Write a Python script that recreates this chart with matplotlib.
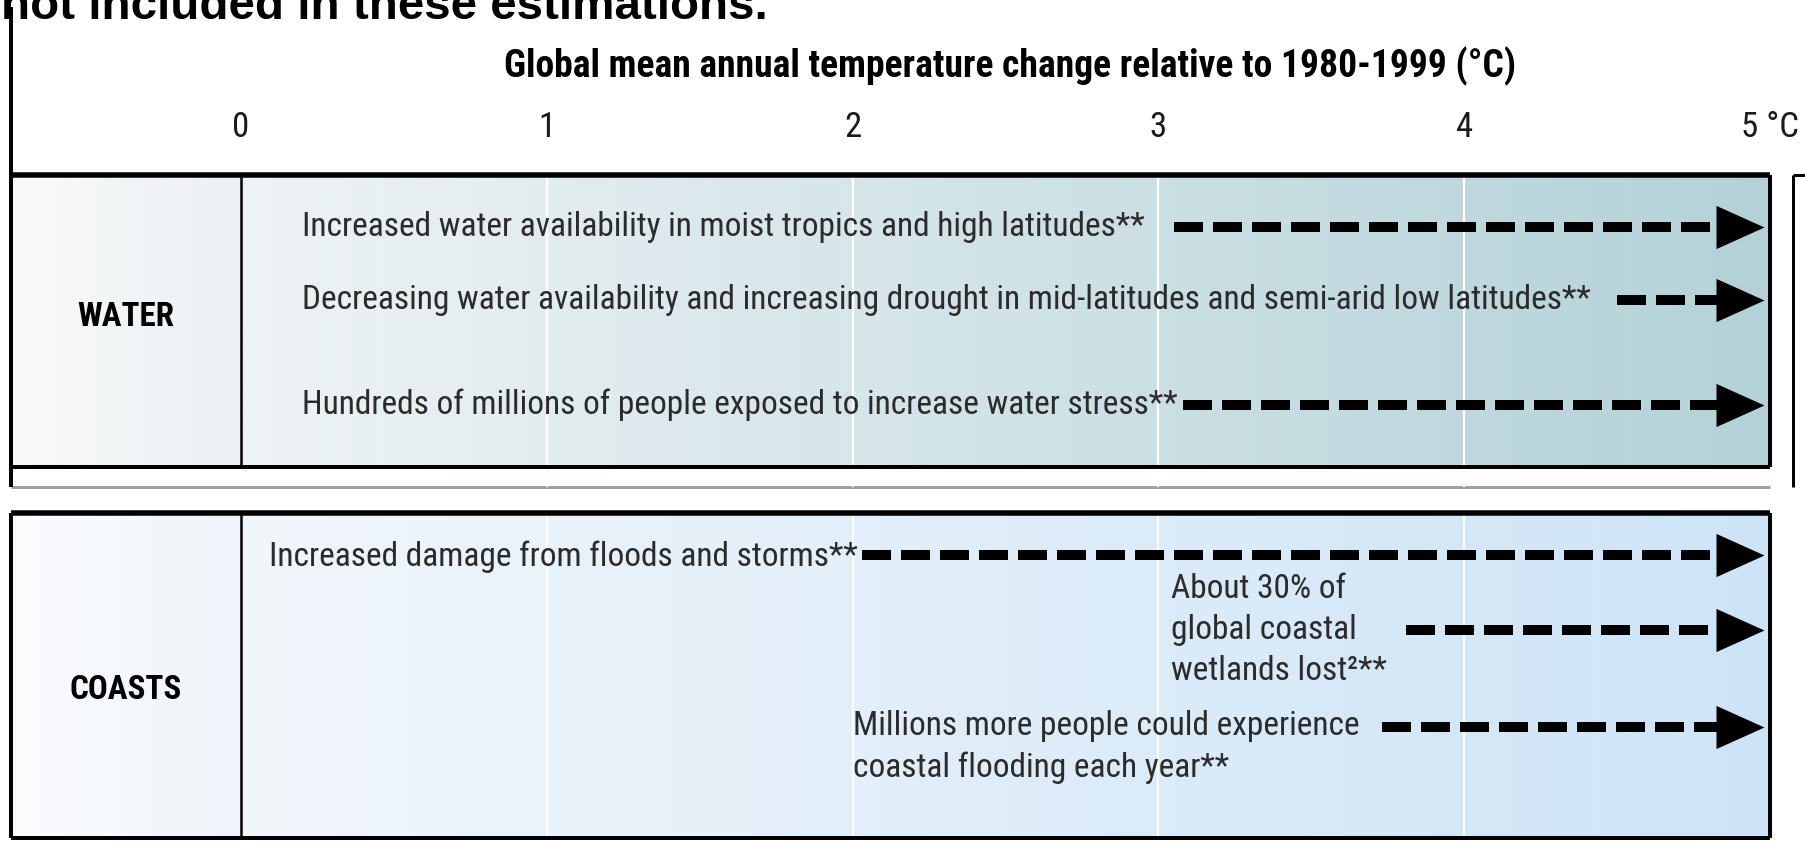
import os
import numpy as np
import matplotlib
matplotlib.use("Agg")
import matplotlib.pyplot as plt
import matplotlib.font_manager as fm
from matplotlib.colors import to_rgb
from matplotlib.transforms import ScaledTranslation

# ---------------- data ----------------
ticks = [0, 1, 2, 3, 4, 5]
tick_labels = ["0", "1", "2", "3", "4", "5 °C"]
axis_title = "Global mean annual temperature change relative to 1980-1999 (°C)"
cut_title = "not included in these estimations."

sectors = ["WATER", "COASTS"]

water_text = ["Increased water availability in moist tropics and high latitudes**",
              "Decreasing water availability and increasing drought in mid-latitudes and semi-arid low latitudes**",
              "Hundreds of millions of people exposed to increase water stress**"]
water_text_x = [0.20, 0.20, 0.20]
water_arrow_from = [3.05, 4.50, 3.08]
water_arrow_to = [4.98, 4.98, 4.98]

coast_text = ["Increased damage from floods and storms**",
              "About 30% of\nglobal coastal\nwetlands lost\u00b2**",
              "Millions more people could experience\ncoastal flooding each year**"]
coast_text_x = [0.09, 3.04, 2.00]
coast_arrow_from = [2.03, 3.81, 3.73]
coast_arrow_to = [4.98, 4.98, 4.98]

# ---------------- layout (pixels) ----------------
W, H, DPI = 1805, 849, 100
X0 = 241.0      # pixel of 0 degC
PPD = 305.8     # pixels per degC
XL = (11 - X0) / PPD   # left frame edge in degC units

water_rows = [227, 300, 405]
coast_rows = [557, 630, 747]
coast_arrow_rows = [555, 630, 727]
line_gap = 41
text_gap = 5    # pixels kept between a text end and its arrow

panels = [(175, 467), (513, 838)]
grad_label = [("#f9fafb", "#ebf0f2"), ("#fbfcfe", "#eef4fa")]
grad_main = [("#eef3f5", "#b3d2d8"), ("#f1f6fb", "#cde4f7")]

plt.rcParams["lines.scale_dashes"] = False


def px(v):
    return v * 72.0 / DPI


FILES = {os.path.basename(f.fname): f.fname for f in fm.fontManager.ttflist}


def pick(files, **fallback):
    for name in files:
        if name in FILES:
            return fm.FontProperties(fname=FILES[name])
    return fm.FontProperties(**fallback)


body_font = pick(["NotoSans-Condensed.ttf", "RobotoCondensed-Regular.ttf",
                  "LiberationSansNarrow-Regular.ttf", "DejaVuSansCondensed.ttf"],
                 family="DejaVu Sans")
label_font = pick(["RobotoCondensed-Regular.ttf", "LiberationSansNarrow-Regular.ttf",
                   "NotoSans-Condensed.ttf", "DejaVuSansCondensed.ttf"], family="DejaVu Sans")
label_bold = pick(["RobotoCondensed-Bold.ttf", "LiberationSansNarrow-Bold.ttf",
                   "NotoSans-CondensedBold.ttf", "DejaVuSansCondensed-Bold.ttf"],
                  family="DejaVu Sans", weight="bold")
arial_b = pick(["LiberationSans-Bold.ttf"], family="DejaVu Sans", weight="bold")

fig = plt.figure(figsize=(W / DPI, H / DPI), dpi=DPI)
ax = fig.add_axes([0, 0, 1, 1])
xlim = (-X0 / PPD, (W - X0) / PPD)
renderer = fig.canvas.get_renderer()


def width_of(s, fp, size):
    t = ax.text(0, 0, s, fontproperties=fp, fontsize=size)
    w = t.get_window_extent(renderer).width
    t.remove()
    return w


def fit(t, width_px):
    w = t.get_window_extent(renderer).width
    t.set_fontsize(t.get_fontsize() * width_px / w)
    return t.get_fontsize()


def grad(x0, x1, y0, y1, c0, c1):
    t = np.linspace(0, 1, 256)[None, :, None]
    img = (1 - t) * np.array(to_rgb(c0)) + t * np.array(to_rgb(c1))
    ax.imshow(img, extent=(x0, x1, y1, y0), aspect="auto", zorder=0,
              interpolation="bilinear")


# backgrounds
for (y0, y1), gl, gm in zip(panels, grad_label, grad_main):
    grad(XL, 0, y0, y1, *gl)
    grad(0, ticks[-1], y0, y1, *gm)

# white grid lines
ax.vlines(ticks[1:-1], panels[0][0], 487, color="white", lw=px(2.2), zorder=1)
ax.vlines(ticks[1:-1], panels[1][0], panels[1][1], color="white", lw=px(2.2), alpha=0.9, zorder=1)

# frames
k = "black"
ax.hlines(487, XL, ticks[-1], color="#a0a0a0", lw=px(3), zorder=0.5)
ax.vlines(XL, 7, 487, color=k, lw=px(4), zorder=3)
for y0, y1 in panels:
    ax.hlines(y0, XL, ticks[-1], color=k, lw=px(5.5), zorder=3)
    ax.hlines(y1, XL, ticks[-1], color=k, lw=px(4), zorder=3)
    ax.vlines(XL, y0, y1, color=k, lw=px(4), zorder=3)
    ax.vlines(ticks[-1], y0, y1, color=k, lw=px(4), zorder=3)
    ax.vlines(ticks[0], y0, y1, color=k, lw=px(2.5), zorder=3)
xr = (1793 - X0) / PPD
ax.vlines(xr, panels[0][0], 487, color=k, lw=px(3), zorder=3)
ax.hlines(panels[0][0], xr, xlim[1] + 0.1, color=k, lw=px(3), zorder=3)

# arrows
head = 48.0
tri = [(0.5, 0), (-0.5, 0.45), (-0.5, -0.45)]
shift = ScaledTranslation(-head / 2 / DPI, 0, fig.dpi_scale_trans)


def arrow(x_from, x_to, y):
    ax.plot([x_from, x_to - head * 0.7 / PPD], [y, y], color=k, lw=px(10),
            dashes=(px(29), px(10)), dash_capstyle="butt", zorder=4)
    ax.plot([x_to], [y], marker=tri, ms=px(head), color=k, mew=0,
            transform=ax.transData + shift, zorder=5)


for a, b, y in zip(water_arrow_from, water_arrow_to, water_rows):
    arrow(a, b, y)
for a, b, y in zip(coast_arrow_from, coast_arrow_to, coast_arrow_rows):
    arrow(a, b, y)

# body text size: largest size at which every one-line text ends before its arrow
size0 = 20
scales = []
for s, x, a in list(zip(water_text, water_text_x, water_arrow_from)) + \
        [(coast_text[0], coast_text_x[0], coast_arrow_from[0])]:
    room = (a - x) * PPD - text_gap
    scales.append(room / width_of(s, body_font, size0))
body_size = size0 * min(scales)

txt = "#2b2b2b"
for s, x, y in zip(water_text, water_text_x, water_rows):
    ax.text(x, y, s, fontproperties=body_font, fontsize=body_size, color=txt,
            ha="left", va="center", zorder=6)
for s, x, y in zip(coast_text, coast_text_x, coast_rows):
    lines = s.split("\n")
    n = len(lines)
    for i, line in enumerate(lines):
        ax.text(x, y + (i - (n - 1) / 2) * line_gap, line, fontproperties=body_font,
                fontsize=body_size, color=txt, ha="left", va="center", zorder=6)

# sector labels
lab_x = XL / 2
lab = ax.text(lab_x, 690, sectors[1], fontproperties=label_bold, fontsize=20,
              ha="center", va="center", zorder=6)
lab_size = fit(lab, 112)
ax.text(lab_x, 317, sectors[0], fontproperties=label_bold, fontsize=lab_size,
        ha="center", va="center", zorder=6)

# temperature axis
for t, s in zip(ticks, tick_labels):
    ax.text(t, 127, s, fontproperties=label_font, fontsize=25, color="#1a1a1a",
            ha="center", va="center")
ttl = ax.text((1010 - X0) / PPD, 66, axis_title, fontproperties=label_bold,
              fontsize=20, ha="center", va="center")
fit(ttl, 1010)

# cropped heading at the very top
head_txt = ax.text(xlim[0] + 1 / PPD, 19, cut_title, fontproperties=arial_b,
                   fontsize=20, ha="left", va="baseline")
fit(head_txt, 765)

ax.set_xlim(*xlim)
ax.set_ylim(H, 0)
ax.axis("off")
fig.savefig("out.png", dpi=DPI, facecolor="white")
